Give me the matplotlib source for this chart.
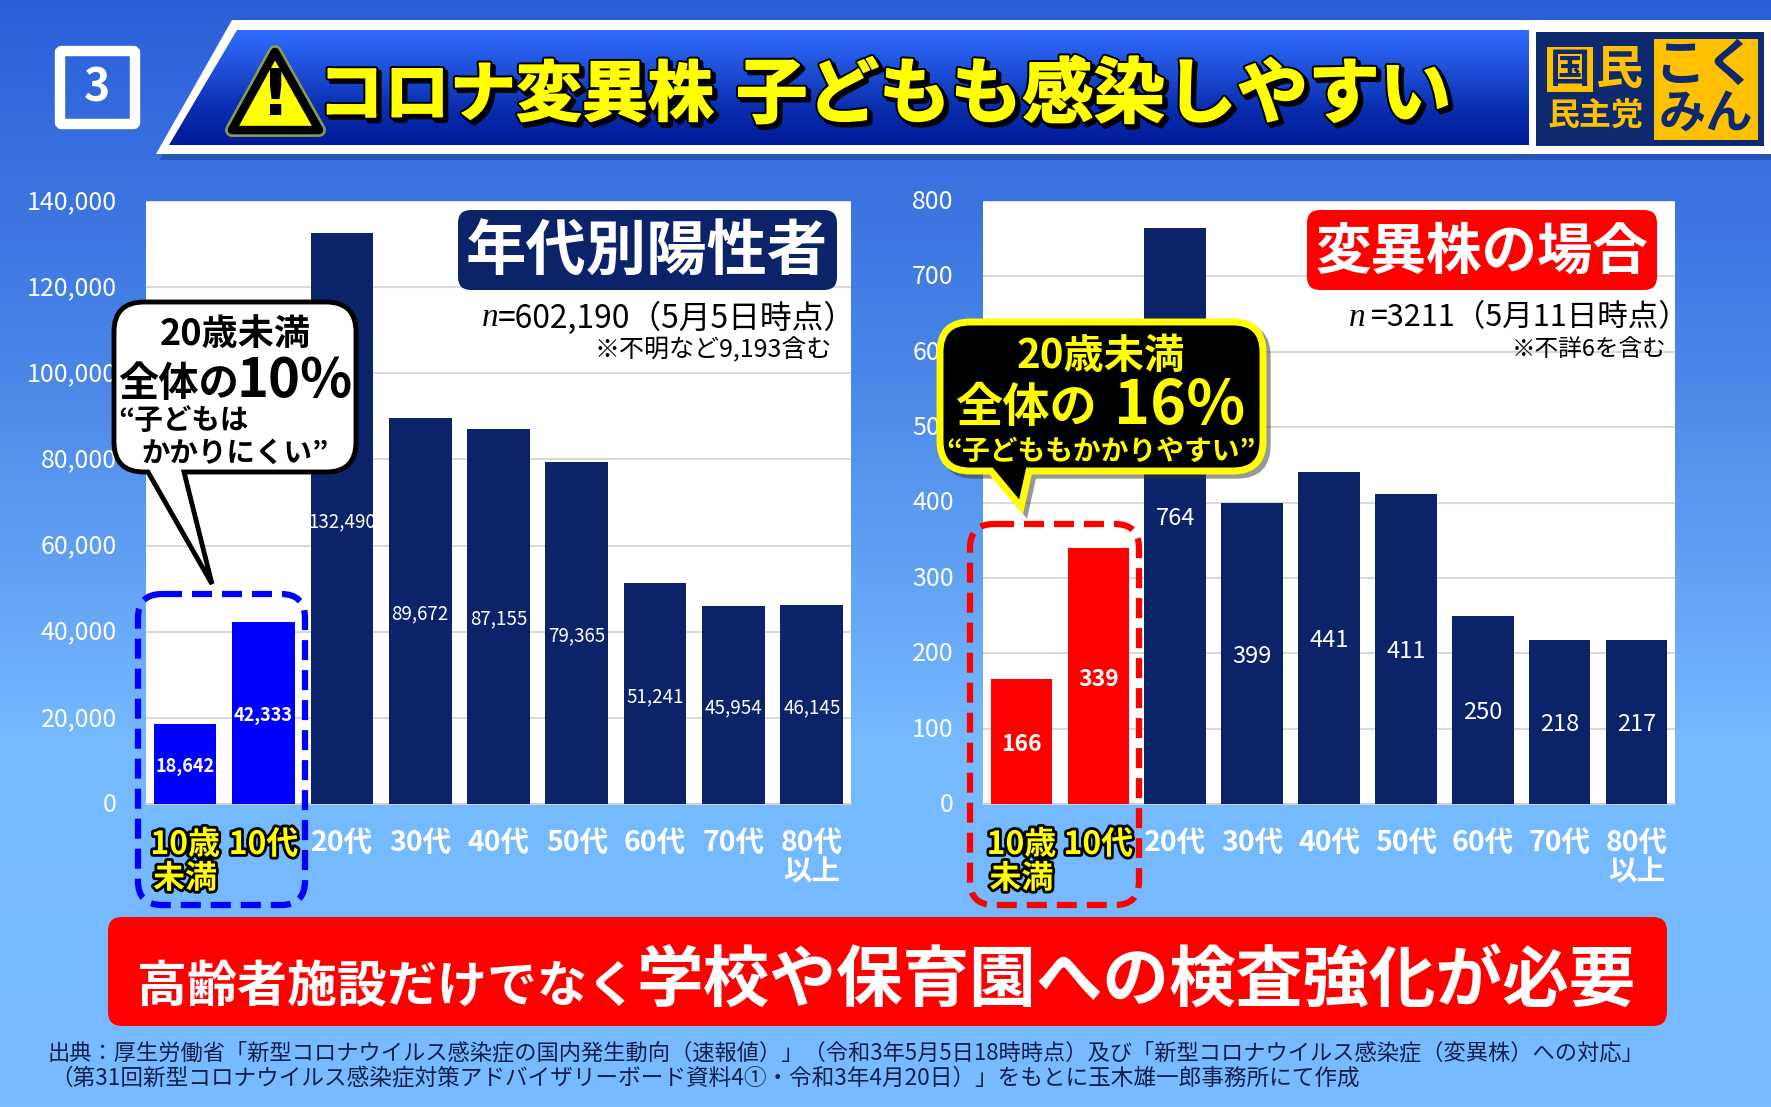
import matplotlib
matplotlib.use('Agg')
import matplotlib.pyplot as plt
import matplotlib.patheffects as pe
from matplotlib.patches import FancyBboxPatch, PathPatch, Polygon, Rectangle
from matplotlib.path import Path
from matplotlib.transforms import ScaledTranslation
import numpy as np

plt.rcParams['font.family'] = ['Noto Sans CJK JP', 'DejaVu Sans']

W = 1771
H = 1107

categories = ['10歳\n未満', '10代', '20代', '30代', '40代', '50代', '60代', '70代', '80代\n以上']
positive_all = [18642, 42333, 132490, 89672, 87155, 79365, 51241, 45954, 46145]
positive_variant = [166, 339, 764, 399, 441, 411, 250, 218, 217]
ticks_all = [0, 20000, 40000, 60000, 80000, 100000, 120000, 140000]
ticks_variant = [0, 100, 200, 300, 400, 500, 600, 700, 800]

NAVY = '#0b2469'
YELLOW = '#ffff00'
GOLD = '#ffc000'


def axes_px(x0, y0, x1, y1):
    # pixel box (y from the top) to figure fractions
    return [x0 / W, 1 - y1 / H, (x1 - x0) / W, (y1 - y0) / H]


def bar_chart(box, values, ticks, ymax, highlight, bold_size, thin_size):
    ax = fig.add_axes(axes_px(*box), zorder=2)
    ax.set_facecolor('white')
    colors = [highlight, highlight] + [NAVY] * 7
    bars = ax.bar(range(len(values)), values, width=0.8, color=colors, zorder=3)
    ax.set_xlim(-0.5, 8.5)
    ax.set_ylim(0, ymax)
    ax.set_yticks(ticks)
    ax.set_yticklabels([f'{t:,}' for t in ticks])
    ax.grid(axis='y', color='#d9d9d9', lw=1.5, zorder=0)
    ax.set_axisbelow(True)
    for s in ['top', 'left', 'right']:
        ax.spines[s].set_visible(False)
    ax.spines['bottom'].set_color('#d0d0d0')
    ax.spines['bottom'].set_linewidth(1.5)
    ax.tick_params(axis='y', length=0, pad=21, labelcolor='white', labelsize=18)
    ax.tick_params(axis='x', length=0, pad=18)
    for lab in ax.get_yticklabels():
        # lift the tick labels a little, this font sits low
        lab.set_transform(lab.get_transform() + ScaledTranslation(0, 2 / 100, fig.dpi_scale_trans))
    ax.set_xticks(range(len(categories)))
    ax.set_xticklabels(categories, fontsize=20.5, fontweight='bold', color='white', linespacing=1.08)
    for i, lab in enumerate(ax.get_xticklabels()):
        if i < 2:
            lab.set_color(YELLOW)
            lab.set_fontsize(23)
            lab.set_path_effects([pe.withStroke(linewidth=4, foreground='black')])
    labs = [f'{v:,}' for v in values]
    texts = ax.bar_label(bars, labels=labs, label_type='center', color='white', fontsize=thin_size, zorder=4)
    for t in texts:
        t.xyann = (0, -2)
    for t in texts[:2]:
        t.set_fontweight('bold')
        t.set_fontsize(bold_size)
    return ax


def bubble(x0, y0, x1, y1, r, tail):
    # rounded box with a tail on its lower edge, tail = (base right, tip, base left)
    k = [(x0 + r, y0), (x1 - r, y0)]
    verts = [k[0], k[1], (x1, y0), (x1, y0 + r), (x1, y1 - r), (x1, y1), (x1 - r, y1)]
    codes = [Path.MOVETO, Path.LINETO, Path.CURVE3, Path.CURVE3, Path.LINETO, Path.CURVE3, Path.CURVE3]
    for p in tail:
        verts.append(p)
        codes.append(Path.LINETO)
    verts += [(x0 + r, y1), (x0, y1), (x0, y1 - r), (x0, y0 + r), (x0, y0), (x0 + r, y0), (x0 + r, y0)]
    codes += [Path.LINETO, Path.CURVE3, Path.CURVE3, Path.LINETO, Path.CURVE3, Path.CURVE3, Path.CLOSEPOLY]
    return Path(verts, codes)


def txt(x, y, s, size, color='black', weight='bold', ha='center', va='center', stroke=None, sw=0, **kw):
    t = top.text(x, y, s, fontsize=size, color=color, fontweight=weight, ha=ha, va=va, **kw)
    if stroke is not None:
        t.set_path_effects([pe.withStroke(linewidth=sw, foreground=stroke)])
    return t


def title_text(x, s, size):
    t = top.text(x, 96, s, fontsize=size, color=YELLOW, fontweight='bold', ha='left', va='center')
    t.set_path_effects([pe.withStroke(linewidth=4, foreground='black'),
                        pe.SimpleLineShadow(offset=(2.5, -2.5), shadow_color='black', alpha=1, linewidth=4),
                        pe.withStroke(linewidth=1.2, foreground=YELLOW),
                        pe.Normal()])


fig = plt.figure(figsize=(W / 100, H / 100), dpi=100)

# background gradient
bg = fig.add_axes([0, 0, 1, 1], zorder=0)
bg.imshow(np.linspace(0, 1, 256).reshape(-1, 1), aspect='auto',
          cmap=matplotlib.colors.LinearSegmentedColormap.from_list('bg', ['#2b5fd9', '#4a86e8', '#75b9ff', '#78bbff']))
bg.axis('off')

ax1 = bar_chart((146, 201, 851, 804), positive_all, ticks_all, 140000, '#0000ff', 13, 13.5)
ax2 = bar_chart((983, 201, 1675, 804), positive_variant, ticks_variant, 800, '#ff0000', 16.5, 17)

# everything drawn on the slide itself, in pixels
top = fig.add_axes([0, 0, 1, 1], zorder=5)
top.patch.set_alpha(0)
top.axis('off')

# header
top.add_patch(Polygon([(160, 160), (236, 26), (W, 26), (W, 160)], closed=True, fc='#17368f', alpha=0.45, ec='none'))
top.add_patch(Polygon([(156, 154), (232, 20), (W, 20), (W, 154)], closed=True, fc='white', ec='none'))
grad = top.imshow(np.linspace(0, 1, 256).reshape(-1, 1), aspect='auto', extent=(169, 1529, 145, 30), zorder=1.5,
                  cmap=matplotlib.colors.LinearSegmentedColormap.from_list('hd', ['#2f6dff', '#1f50d8', '#0a2fb0', '#001a99']))
clip = Polygon([(169, 145), (237, 30), (1529, 30), (1529, 145)], closed=True, transform=top.transData, fc='none', ec='none')
top.add_patch(clip)
grad.set_clip_path(clip)

# number box
top.add_patch(FancyBboxPatch((60, 51), 75, 73, boxstyle='round,pad=0,rounding_size=2', fc='none', ec='white', lw=7.5))
txt(97, 89, '3', 32, color='white')

# warning sign
top.add_patch(Polygon([(275, 52), (232, 130), (319, 130)], closed=True, fc=YELLOW, ec='black', lw=6, joinstyle='round', zorder=3,
                      path_effects=[pe.withStroke(linewidth=10, foreground='#8a9a50'), pe.Normal()]))
txt(276, 97, '!', 46, zorder=4, family='DejaVu Sans')

title_text(318, 'コロナ変異株', 47.5)
title_text(736, '子どもも感染しやすい', 51.5)

# logo
top.add_patch(Rectangle((1536, 32), 228, 114, fc='#0d2a6e', ec='none', zorder=3))
top.add_patch(Rectangle((1654, 39), 104, 101, fc=GOLD, ec='none', zorder=3))
top.add_patch(Rectangle((1547, 47), 46, 45, fc=GOLD, ec='none', zorder=3))
txt(1570, 70, '国', 29, color='#0d2a6e', zorder=4)
txt(1619, 70, '民', 34, color=GOLD, zorder=4)
txt(1596, 116, '民主党', 23, color=GOLD, zorder=4)
txt(1706, 65, 'こく', 37, color='#0d2a6e', zorder=4)
txt(1706, 115, 'みん', 34, color='#0d2a6e', zorder=4)

# chart titles
top.add_patch(FancyBboxPatch((458, 210), 379, 80, boxstyle='round,pad=0,rounding_size=13', fc=NAVY, ec='none'))
txt(647, 253, '年代別陽性者', 43.5, color='white')
top.add_patch(FancyBboxPatch((1307, 210), 350, 80, boxstyle='round,pad=0,rounding_size=13', fc='#ff0000', ec='none'))
txt(1482, 253, '変異株の場合', 40, color='white')

# n and notes
txt(482, 318, 'n', 24, weight='normal', ha='left', style='italic', family='Liberation Serif')
txt(856, 318, '=602,190（5月5日時点）', 22.9, weight='normal', ha='right')
txt(832, 350, '※不明など9,193含む', 18, weight='normal', ha='right')
txt(1349, 318, 'n', 24, weight='normal', ha='left', style='italic', family='Liberation Serif')
txt(1690, 318, '=3211（5月11日時点）', 22, weight='normal', ha='right')
txt(1667, 350, '※不詳6を含む', 17, weight='normal', ha='right')

# dashed boxes around the under-20 bars
top.add_patch(FancyBboxPatch((138, 594), 167, 311, boxstyle='round,pad=0,rounding_size=24', fc='none', ec='#0000ff',
                             lw=4.5, linestyle=(0, (3.2, 1.6))))
top.add_patch(FancyBboxPatch((970, 524), 169, 381, boxstyle='round,pad=0,rounding_size=24', fc='none', ec='#ff0000',
                             lw=4.5, linestyle=(0, (3.2, 1.6))))

# left callout
top.add_patch(PathPatch(bubble(114, 302, 356, 472, 30, [(184, 472), (212, 584), (148, 472)]), fc='white', ec='black', lw=3.5))
txt(235, 334, '20歳未満', 26)
txt(118, 384, '全体の', 29, ha='left')
txt(295, 381, '10%', 39)
txt(118, 421, '“子どもは', 20.5, ha='left')
txt(141, 454, 'かかりにくい”', 20.5, ha='left')

# right callout
top.add_patch(PathPatch(bubble(940, 322, 1263, 471, 30, [(1029, 471), (1021, 507), (991, 471)]), fc='black', ec=YELLOW, lw=5,
                        path_effects=[pe.SimpleLineShadow(offset=(3, -3), shadow_color='#333333', alpha=0.5, linewidth=5), pe.Normal()]))
txt(1101, 356, '20歳未満', 29, color=YELLOW)
txt(955, 408, '全体の', 34, color=YELLOW, ha='left')
txt(1180, 406, '16%', 44, color=YELLOW)
txt(1101, 452, '“子どももかかりやすい”', 20, color=YELLOW)

# banner
top.add_patch(FancyBboxPatch((108, 917), 1559, 109, boxstyle='round,pad=0,rounding_size=14', fc='#ff0000', ec='none'))
txt(137, 1002, '高齢者施設だけでなく', 36, color='white', ha='left', va='baseline')
txt(636, 1002, '学校や保育園への検査強化が必要', 48, color='white', ha='left', va='baseline')

# source
txt(48, 1053, '出典：厚生労働省「新型コロナウイルス感染症の国内発生動向（速報値）」（令和3年5月5日18時時点）及び「新型コロナウイルス感染症（変異株）への対応」',
    16, color='#14204a', weight='normal', ha='left')
txt(50, 1079, '（第31回新型コロナウイルス感染症対策アドバイザリーボード資料4①・令和3年4月20日）」をもとに玉木雄一郎事務所にて作成',
    16.3, color='#14204a', weight='normal', ha='left')

top.set_xlim(0, W)
top.set_ylim(H, 0)

fig.savefig('out.png', dpi=100)
